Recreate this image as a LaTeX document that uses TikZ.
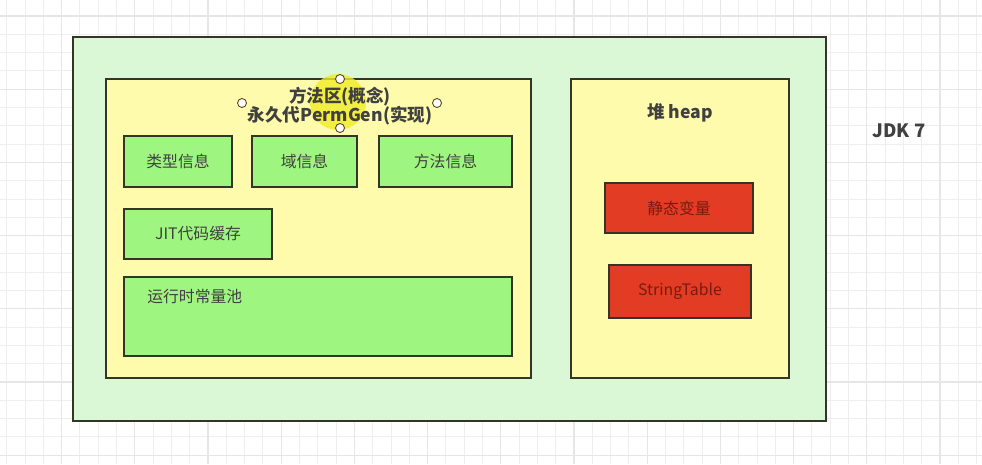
\documentclass[tikz,border=0pt]{standalone}
\usepackage{fontspec}
\setmainfont{Noto Sans CJK SC}
\usepackage{tikz}
\usetikzlibrary{
    positioning
}
\usepackage{xcolor}
\definecolor{gridline}{RGB}{238,238,238}
\definecolor{gridmajor}{RGB}{230,230,230}
\definecolor{outerfill}{RGB}{219,248,214}
\definecolor{areafill}{RGB}{255,251,172}
\definecolor{itemfill}{RGB}{158,246,128}
\definecolor{redfill}{RGB}{226,61,36}
\definecolor{edge}{RGB}{52,52,40}
\definecolor{textgray}{RGB}{64,64,64}
\definecolor{redtext}{RGB}{122,26,16}
\definecolor{glow}{RGB}{240,236,40}

\begin{document}
\begin{tikzpicture}[
        x=0.02cm, y=-0.02cm,
        box/.style={
            rectangle,
            draw=edge,
            line width=1.1pt,
            inner sep=0pt
        },
        area/.style={
            box,
            fill=areafill
        },
        item/.style={
            box,
            fill=itemfill,
            font=\fontsize{9}{10}\selectfont,
            text=textgray,
            minimum height=1.02cm
        },
        reditem/.style={
            box,
            fill=redfill,
            font=\fontsize{9}{10}\selectfont,
            text=redtext,
            minimum height=1.0cm
        },
        title/.style={
            font=\fontsize{10}{12}\selectfont\bfseries,
            text=textgray,
            align=center
        },
        handle/.style={
            circle,
            draw=black!50!brown,
            fill=white,
            line width=0.5pt,
            minimum size=0.18cm,
            inner sep=0pt
        }
    ]
        \useasboundingbox (0,0) rectangle (982,464);
        % grid
        \foreach \i in {0,...,53} {
            \draw[gridline, line width=0.5pt] (6.7+18.3*\i,0) -- (6.7+18.3*\i,464);
        }
        \foreach \j in {0,...,25} {
            \draw[gridline, line width=0.5pt] (0,-2.3+18.3*\j) -- (982,-2.3+18.3*\j);
        }
        \foreach \i in {0,...,13} {
            \draw[gridmajor, line width=0.6pt] (-11.6+73.2*\i,0) -- (-11.6+73.2*\i,464);
        }
        \foreach \j in {0,...,6} {
            \draw[gridmajor, line width=0.6pt] (0,16+73.2*\j) -- (982,16+73.2*\j);
        }

        \node[box, fill=outerfill, minimum width=15.06cm, minimum height=7.68cm] (jdk) at (449.5,229) {};
        \node[title, font=\fontsize{10.5}{12}\selectfont\bfseries] (jdklabel) at (899,131) {JDK 7};

        % method area
        \node[area, minimum width=8.5cm, minimum height=5.98cm] (method) at (318.5,228.5) {};
        \fill[glow, opacity=0.8] (338,102) circle (28);
        \node[title] (methodtitle) at (340,106) {方法区(概念)\\[-1pt]永久代PermGen(实现)};
        \node[handle] (h1) at (340,79) {};
        \node[handle] (h2) at (340,128) {};
        \node[handle] (h3) at (242,103) {};
        \node[handle] (h4) at (437,103) {};

        \node[item, minimum width=2.16cm] (type) at (178,161.5) {类型信息};
        \node[item, minimum width=2.1cm] (field) at (304.5,161.5) {域信息};
        \node[item, minimum width=2.66cm] (methods) at (445.5,161.5) {方法信息};
        \node[item, minimum width=2.96cm, minimum height=1.0cm] (jit) at (198,234) {JIT代码缓存};
        \node[item, minimum width=7.76cm, minimum height=1.58cm] (pool) at (318,316.5) {};
        \node[font=\fontsize{9}{10}\selectfont, text=textgray, anchor=west, inner sep=0pt] (pooltext) at (147,297) {运行时常量池};

        % heap
        \node[area, minimum width=4.36cm, minimum height=5.98cm] (heap) at (680,228.5) {};
        \node[title] (heaptitle) at (680,113) {堆 heap};
        \node[reditem, minimum width=2.96cm] (static) at (679,208) {静态变量};
        \node[reditem, minimum width=2.84cm, minimum height=1.06cm] (strtab) at (680,291.5) {StringTable};
    \end{tikzpicture}
\end{document}
